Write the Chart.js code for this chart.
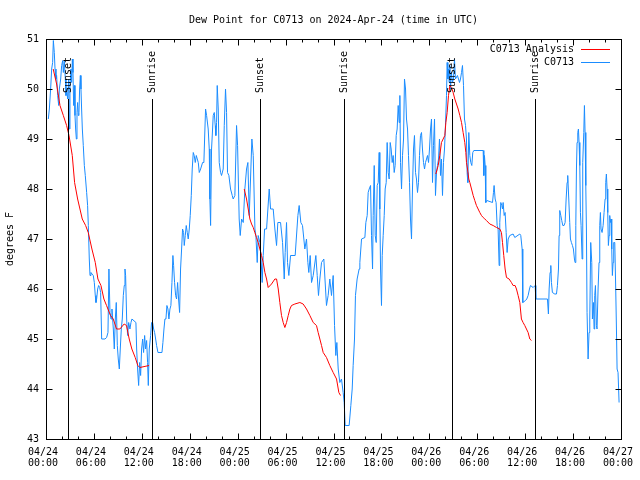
<!DOCTYPE html>
<html><head><meta charset="utf-8">
<script src="https://cdn.jsdelivr.net/npm/chart.js@4"></script>
<style>html,body{margin:0;padding:0;background:#fff;}</style>
</head><body>
<canvas id="c" width="640" height="480"></canvas>
<script>
// ---- data (hours since 2024-04-24 00:00 UTC, dew point degrees F) ----
const obsHours = [
0.29,0.42,0.58,0.71,0.83,0.92,1.04,1.13,1.25,1.33,1.46,1.59,1.67,1.84,1.96,2.09,2.17,2.29,2.42,2.5,2.59,2.71,2.84,2.92,3.0,3.13,3.21,3.3,3.38,3.46,3.55,3.63,3.71,3.8,3.88,3.96,4.05,4.13,4.21,4.3,4.38,4.46,4.55,4.67,4.8,4.92,5.09,5.21,5.3,5.42,5.51,5.63,5.76,5.92,6.05,6.17,6.26,6.34,6.47,6.59,6.72,6.84,6.97,7.38,7.59,7.76,7.88,8.01,8.14,8.26,8.43,8.55,8.68,8.8,8.93,9.05,9.18,9.3,9.43,9.55,9.68,9.8,9.89,9.97,10.1,10.22,10.35,10.51,10.64,10.76,11.26,11.35,11.47,11.6,11.72,11.85,11.97,12.1,12.22,12.35,12.47,12.6,12.72,12.81,12.93,13.1,13.22,13.35,13.48,13.6,13.73,13.85,14.02,14.52,14.64,14.77,14.89,15.02,15.14,15.27,15.39,15.52,15.64,15.77,15.89,15.98,16.1,16.23,16.35,16.48,16.6,16.73,16.85,16.98,17.1,17.23,17.31,17.44,17.56,17.69,17.81,17.94,18.06,18.19,18.31,18.44,18.56,18.69,18.82,18.94,19.07,19.19,
19.36,19.61,19.77,19.86,19.98,20.11,20.31,20.44,20.52,20.61,20.73,20.86,20.94,21.07,21.19,21.27,21.36,21.44,21.57,21.69,21.86,21.98,22.19,22.32,22.48,22.61,22.73,22.9,23.11,23.32,23.44,23.65,23.86,23.99,24.19,24.32,24.49,24.7,24.9,25.11,25.28,25.45,25.61,25.78,25.95,26.16,26.28,26.45,26.57,26.78,26.91,27.07,27.2,27.37,27.62,27.95,28.12,28.45,28.66,28.87,29.03,29.37,29.62,29.83,29.95,30.12,30.24,30.41,30.62,31.2,31.54,31.7,31.91,32.12,32.41,32.62,32.79,32.91,33.08,33.25,33.46,33.79,33.96,34.12,34.29,34.5,34.79,35.12,35.33,35.54,35.75,35.96,36.13,36.29,36.42,36.59,36.79,37.0,37.21,37.34,37.46,37.96,38.17,38.34,38.46,38.63,38.75,38.96,39.21,
39.3,39.51,39.93,40.05,40.22,40.34,40.47,40.64,40.76,40.89,40.97,41.1,41.22,41.35,41.47,41.6,41.72,41.8,41.89,42.01,42.1,42.22,42.35,42.47,42.6,42.72,42.85,42.97,43.1,43.22,43.35,43.47,43.6,43.72,43.85,43.97,44.1,44.22,44.31,44.39,44.52,44.64,44.77,44.89,45.02,45.14,45.27,45.39,45.52,45.64,45.77,45.89,46.02,46.14,46.27,46.39,46.52,46.64,46.77,46.89,47.02,47.14,47.27,47.4,47.52,47.65,47.77,47.9,48.02,48.15,48.27,48.4,48.52,48.65,48.77,48.9,49.02,49.15,49.27,49.4,49.52,49.65,49.77,49.9,50.02,50.15,50.23,50.32,50.4,50.48,50.57,50.65,50.77,50.9,51.02,51.15,51.27,51.52,51.78,51.9,52.03,52.15,52.28,52.4,52.53,52.65,52.73,52.82,52.94,53.07,53.19,53.32,53.44,53.57,54.74,54.82,54.9,54.99,55.07,55.2,55.91,56.03,56.11,56.24,56.36,56.49,56.61,56.74,56.82,56.95,57.07,57.16,57.24,57.37,57.49,57.62,57.74,57.87,58.07,58.49,58.7,59.33,
59.45,59.62,59.7,60.04,60.2,60.37,60.54,60.66,61.0,61.25,61.33,62.79,62.91,63.0,63.12,63.21,63.29,63.41,63.71,63.92,64.04,64.17,64.25,64.33,64.46,64.58,64.71,64.87,65.0,65.13,65.25,65.33,65.46,65.58,65.67,65.79,65.92,66.04,66.17,66.25,66.34,66.42,66.5,66.59,66.67,66.75,66.84,66.92,67.0,67.13,67.21,67.34,67.42,67.5,67.59,67.67,67.75,67.88,68.0,68.09,68.21,68.34,68.42,68.55,68.63,68.71,68.8,68.92,69.0,69.13,69.25,69.34,69.42,69.5,69.63,69.76,69.88,70.01,70.09,70.17,70.26,70.34,70.42,70.51,70.59,70.67,70.76,70.84,70.92,71.01,71.09,71.22,71.34,71.43,71.51,71.63,71.76
];
const obsDewPoint = [
49.4,49.6,50.0,50.4,50.53,50.97,50.73,50.4,50.2,50.27,49.87,49.67,50.0,50.2,50.47,50.57,50.33,50.57,50.2,49.87,49.97,49.8,50.2,49.2,50.07,50.4,50.13,50.6,50.33,49.67,50.07,49.47,49.2,49.0,49.53,49.73,49.47,49.53,50.0,50.27,50.0,49.6,49.2,48.87,48.47,48.27,47.93,47.67,47.27,46.6,46.27,46.33,46.3,46.27,46.13,45.87,45.73,45.8,46.0,46.07,46.03,45.93,45.0,45.0,45.03,45.13,46.4,45.53,45.4,45.6,45.2,44.8,45.4,45.73,44.87,44.6,44.4,44.8,45.2,45.4,45.87,46.07,46.4,46.27,45.4,45.07,45.33,45.2,45.33,45.4,45.33,44.8,44.4,44.07,44.53,44.27,44.8,45.0,44.73,45.07,44.8,44.97,44.53,44.07,44.8,45.07,45.33,45.33,45.2,45.13,45.0,44.87,44.73,44.73,44.93,45.2,45.4,45.4,45.67,45.6,45.4,45.6,45.67,46.13,46.67,46.47,46.13,45.87,45.8,46.13,45.8,45.53,46.4,46.8,47.2,47.13,46.87,47.07,47.27,47.13,47.0,47.2,47.47,47.87,48.4,48.73,48.67,48.53,48.67,48.6,48.53,48.33,
48.4,48.53,48.53,49.0,49.6,49.47,49.2,48.8,47.8,47.27,48.8,49.2,49.47,49.53,49.27,49.07,49.33,50.07,49.6,48.53,48.33,48.27,48.4,49.27,50.0,49.53,48.33,48.27,48.0,47.87,47.8,47.87,49.27,48.87,47.4,47.07,47.4,47.33,48.0,48.4,48.53,47.47,48.2,49.0,48.67,47.2,47.07,46.53,47.07,46.93,46.67,46.13,46.67,47.2,47.2,48.0,47.6,47.6,47.2,46.87,47.33,47.33,46.93,46.2,46.73,47.33,46.53,46.27,46.67,46.67,47.47,47.67,47.33,47.27,46.8,47.0,46.53,46.33,46.67,46.13,46.27,46.67,46.27,45.87,46.2,46.53,46.6,45.67,45.87,46.2,45.87,46.27,45.27,44.67,44.93,44.4,44.13,44.2,43.93,43.73,43.27,43.27,43.67,44.0,44.47,45.0,45.87,46.2,46.4,
46.53,47.0,47.03,47.33,47.47,47.93,48.0,48.07,47.07,46.4,47.47,48.47,47.07,46.93,48.07,48.13,48.73,47.6,46.4,45.67,46.67,47.07,47.47,48.0,48.13,48.93,48.33,48.2,48.93,48.8,48.53,48.67,48.33,48.47,49.07,49.2,49.67,49.33,49.87,48.53,48.0,48.67,49.0,50.2,50.0,49.4,49.2,48.67,48.13,47.4,47.0,48.0,48.8,49.07,48.33,48.2,47.93,48.13,48.67,49.07,49.13,48.8,48.53,48.4,48.53,48.6,48.67,48.53,48.8,49.2,49.4,48.13,48.87,49.4,47.87,48.33,48.47,48.6,49.0,48.27,48.6,47.87,48.53,48.8,49.27,49.87,50.53,50.2,50.4,50.13,50.47,50.0,50.33,50.13,50.2,50.6,50.2,50.27,50.13,50.2,50.33,50.47,50.07,49.4,49.27,49.0,48.33,48.13,49.13,48.67,48.53,48.47,48.73,48.77,48.77,48.27,48.67,48.47,47.73,47.77,47.73,47.93,48.07,47.8,47.73,47.27,47.2,46.47,47.33,47.73,47.67,47.6,47.73,47.47,47.53,47.13,46.73,47.0,47.07,47.1,47.03,47.1,
47.07,46.8,45.73,45.77,45.8,45.87,46.0,46.07,46.03,46.07,45.8,45.8,45.5,46.0,46.33,46.47,46.13,45.93,45.9,45.9,46.07,46.4,47.07,47.57,47.47,47.37,47.27,47.27,47.33,47.8,48.13,48.27,47.8,47.33,47.0,46.93,46.87,46.8,46.6,46.53,47.27,48.4,48.93,49.13,49.2,48.93,48.47,47.53,47.27,46.6,48.53,49.13,49.67,49.13,48.07,47.2,45.53,44.6,45.13,45.4,46.93,46.53,45.4,45.73,45.2,45.87,46.07,45.27,45.2,46.0,46.53,47.27,47.53,47.2,47.13,47.27,47.53,47.8,48.13,48.3,48.0,47.53,46.87,47.07,47.47,47.33,47.4,46.8,46.27,46.53,46.93,46.93,46.0,45.2,44.4,44.33,43.73
];
// analysis series; null marks a gap between the three analysis runs
const anaHours = [
0.9,1.33,1.75,2.17,2.58,2.88,3.29,3.58,3.96,4.54,4.96,5.29,5.75,6.17,6.5,6.88,7.25,7.58,8.08,8.42,8.83,9.25,9.79,10.08,10.42,10.75,11.17,11.5,11.75,12.9,
13.5,
24.82,25.11,25.32,25.53,25.74,25.95,26.15,26.36,26.57,26.78,26.99,27.2,27.41,27.62,27.82,28.24,28.66,28.87,29.08,29.28,29.49,29.7,29.91,30.12,30.33,30.54,30.74,31.16,31.79,32.2,32.62,33.04,33.46,33.87,34.08,34.29,34.5,34.71,35.12,35.54,35.96,36.38,36.67,36.88,
40.0,
48.81,49.11,49.31,49.52,49.73,49.94,50.07,50.23,50.4,50.57,50.77,50.98,51.19,51.4,51.61,51.82,52.03,52.23,52.44,52.57,52.65,52.78,52.94,53.07,53.28,53.49,53.69,53.9,54.11,54.32,54.53,54.74,54.95,55.15,55.57,55.99,56.41,56.82,57.03,57.16,57.32,57.49,57.66,57.99,58.28,58.49,58.74,58.91,59.12,59.33,59.53,59.74,59.95,60.16,60.37,60.58,60.79
];
const anaDewPoint = [
50.4,50.1,49.67,49.47,49.27,49.07,48.67,48.13,47.8,47.4,47.27,47.13,46.8,46.53,46.2,46.07,45.8,45.67,45.47,45.4,45.2,45.2,45.3,45.27,45.0,44.8,44.63,44.47,44.43,44.47,
null,
48.0,47.8,47.6,47.4,47.3,47.23,47.13,47.03,46.93,46.8,46.67,46.53,46.33,46.2,46.03,46.1,46.2,46.2,46.0,45.73,45.47,45.33,45.23,45.33,45.47,45.6,45.67,45.7,45.73,45.7,45.6,45.47,45.33,45.27,45.13,45.0,44.87,44.73,44.63,44.47,44.33,44.2,43.93,43.87,
null,
48.3,48.47,48.67,48.93,49.0,49.07,49.33,49.53,49.87,50.07,50.03,49.93,49.8,49.7,49.6,49.47,49.33,49.13,48.93,48.73,48.53,48.4,48.2,48.13,48.0,47.87,47.77,47.67,47.6,47.53,47.47,47.43,47.4,47.37,47.3,47.27,47.23,47.2,47.13,46.93,46.67,46.4,46.23,46.2,46.13,46.07,46.07,46.0,45.87,45.73,45.4,45.33,45.27,45.2,45.13,45.0,44.97
];
const sunHours = [2.79, 13.31, 26.83, 37.35, 50.88, 61.27];
const sunLabels = ['Sunset','Sunrise','Sunset','Sunrise','Sunset','Sunrise'];
const tickHours = [0,6,12,18,24,30,36,42,48,54,60,66,72];
const tickDates = ['04/24','04/24','04/24','04/24','04/25','04/25','04/25','04/25','04/26','04/26','04/26','04/26','04/27'];
const tickTimes = ['00:00','06:00','12:00','18:00','00:00','06:00','12:00','18:00','00:00','06:00','12:00','18:00','00:00'];
const minorTickHours = [2,4,8,10,14,16,20,22,26,28,32,34,38,40,44,46,50,52,56,58,62,64,68,70];
const yTickValues = [43,44,45,46,47,48,49,50,51];
const seriesNames = ['C0713 Analysis','C0713'];
const titleText = 'Dew Point for C0713 on 2024-Apr-24 (time in UTC)';
const yTitleText = 'degrees F';

// ---- styles ----
const FONT = '"DejaVu Sans Mono", "Liberation Mono", monospace';
const RED = '#ff0000';
const BLUE = '#1a8cff';

const obsData = obsHours.map((h, i) => ({x: h, y: obsDewPoint[i]}));
const anaData = anaHours.map((h, i) => ({x: h, y: anaDewPoint[i]}));

const decor = {
  id: 'decor',
  afterDatasetsDraw(chart) {
    const {ctx, chartArea: a, scales: {x, y}} = chart;
    ctx.save();
    ctx.strokeStyle = '#000';
    ctx.lineWidth = 1;
    // sunrise / sunset markers
    const lineTop = y.getPixelForValue(49.8);
    sunHours.forEach((h, i) => {
      const px = Math.round(x.getPixelForValue(h)) + 0.5;
      ctx.beginPath();
      ctx.moveTo(px, a.bottom);
      ctx.lineTo(px, lineTop);
      ctx.stroke();
      ctx.save();
      ctx.translate(px, lineTop - 6);
      ctx.rotate(-Math.PI / 2);
      ctx.font = '10px ' + FONT;
      ctx.fillStyle = '#000';
      ctx.textAlign = 'left';
      ctx.textBaseline = 'middle';
      ctx.fillText(sunLabels[i], 0, 0);
      ctx.restore();
    });
    // frame
    const L = Math.round(a.left) + 0.5, R = Math.round(a.right) + 0.5;
    const T = Math.round(a.top) + 0.5, B = Math.round(a.bottom) + 0.5;
    ctx.strokeRect(L, T, R - L, B - T);
    // ticks
    ctx.beginPath();
    tickHours.forEach(h => {
      const px = Math.round(x.getPixelForValue(h)) + 0.5;
      ctx.moveTo(px, B); ctx.lineTo(px, B - 6);
      ctx.moveTo(px, T); ctx.lineTo(px, T + 6);
    });
    minorTickHours.forEach(h => {
      const px = Math.round(x.getPixelForValue(h)) + 0.5;
      ctx.moveTo(px, B); ctx.lineTo(px, B - 3);
      ctx.moveTo(px, T); ctx.lineTo(px, T + 3);
    });
    yTickValues.forEach(v => {
      const py = Math.round(y.getPixelForValue(v)) + 0.5;
      ctx.moveTo(L, py); ctx.lineTo(L + 6, py);
      ctx.moveTo(R, py); ctx.lineTo(R - 6, py);
    });
    ctx.stroke();
    // legend
    ctx.font = '10px ' + FONT;
    ctx.textAlign = 'right';
    ctx.textBaseline = 'middle';
    const legColors = [RED, BLUE];
    seriesNames.forEach((n, i) => {
      const ly = a.top + 10 + i * 13;
      ctx.fillStyle = '#000';
      ctx.fillText(n, a.right - 47, ly);
      ctx.strokeStyle = legColors[i];
      ctx.beginPath();
      ctx.moveTo(a.right - 40, Math.round(ly) + 0.5);
      ctx.lineTo(a.right - 11, Math.round(ly) + 0.5);
      ctx.stroke();
    });
    // title
    ctx.fillStyle = '#000';
    ctx.textAlign = 'center';
    ctx.fillText(titleText, (a.left + a.right) / 2, 20);
    // y axis title
    ctx.save();
    ctx.translate(10, (a.top + a.bottom) / 2);
    ctx.rotate(-Math.PI / 2);
    ctx.textAlign = 'center';
    ctx.fillText(yTitleText, 0, 0);
    ctx.restore();
    ctx.restore();
  }
};

new Chart(document.getElementById('c'), {
  type: 'line',
  data: {
    datasets: [
      {label: seriesNames[0], data: anaData, borderColor: RED, borderWidth: 1, pointRadius: 0, tension: 0, spanGaps: false, fill: false},
      {label: seriesNames[1], data: obsData, borderColor: BLUE, borderWidth: 1, pointRadius: 0, tension: 0, fill: false}
    ]
  },
  options: {
    responsive: false,
    devicePixelRatio: 1,
    animation: false,
    events: [],
    layout: {padding: {left: 0, right: 19, top: 39, bottom: 0}},
    plugins: {legend: {display: false}, title: {display: false}, tooltip: {enabled: false}},
    scales: {
      x: {
        type: 'linear', min: 0, max: 72,
        grid: {display: false, drawTicks: false},
        border: {display: false},
        afterBuildTicks: s => { s.ticks = tickHours.map(v => ({value: v})); },
        afterFit: s => { s.height = 41; s.paddingLeft = 0; s.paddingRight = 0; },
        ticks: {
          autoSkip: false, maxRotation: 0, minRotation: 0, padding: 8, labelOffset: -3,
          color: '#000', font: {family: FONT, size: 10, lineHeight: 1.1},
          callback: v => { const i = tickHours.indexOf(v); return i < 0 ? '' : [tickDates[i], tickTimes[i]]; }
        }
      },
      y: {
        type: 'linear', min: 43, max: 51,
        grid: {display: false, drawTicks: false},
        border: {display: false},
        afterBuildTicks: s => { s.ticks = yTickValues.map(v => ({value: v})); },
        afterFit: s => { s.width = 46; s.paddingTop = 0; s.paddingBottom = 0; },
        ticks: {padding: 7, color: '#000', font: {family: FONT, size: 10}, callback: v => String(v)}
      }
    }
  },
  plugins: [decor]
});
</script>
</body></html>
